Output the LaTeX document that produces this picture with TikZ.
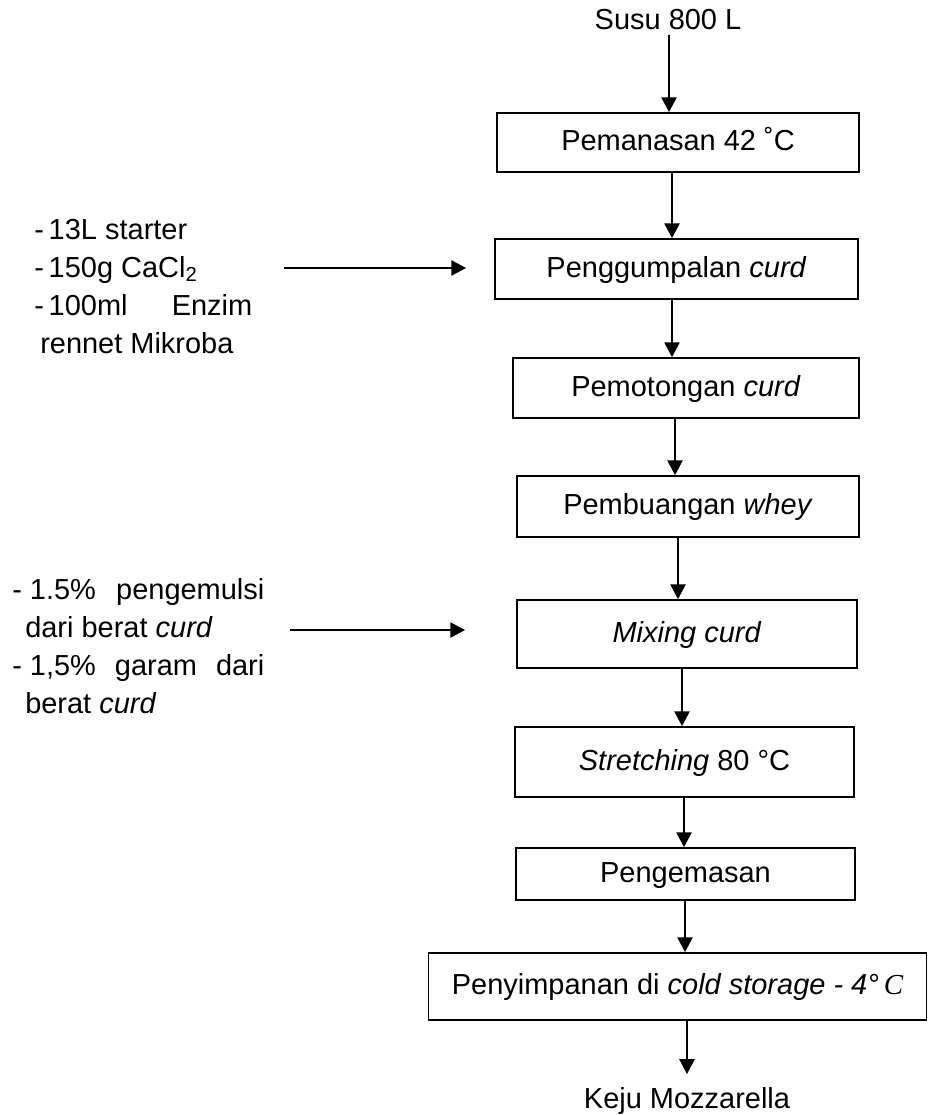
\documentclass[tikz,border=0pt]{standalone}
\usepackage{fontspec}
\setmainfont{Liberation Sans}
\newfontfamily\timesfont{Liberation Serif}
\usetikzlibrary{arrows.meta}

\tikzset{
  tahap/.style={draw=black, line width=1.2pt, rectangle, inner sep=0pt, align=center, text height=15.5pt, text depth=4.1pt},
  alir/.style={line width=1.2pt, -{Triangle[length=0.37cm,width=0.38cm]}},
  baris/.style={anchor=base west, inner sep=0pt},
}

\begin{document}
\begin{tikzpicture}[x=0.025cm, y=-0.025cm, font=\fontsize{20.6pt}{24pt}\selectfont]
\useasboundingbox (0,0) rectangle (929,1115);

% alur utama
\node[anchor=base] (susu) at (668,30) {Susu 800 L};
\node[tahap, minimum width=9.05cm, minimum height=1.475cm] (panas) at (678,142.5) {Pemanasan 42 ˚C};
\node[tahap, minimum width=9.075cm, minimum height=1.5cm] (gumpal) at (676.5,269) {Penggumpalan \textit{curd}};
\node[tahap, minimum width=8.65cm, minimum height=1.5cm] (potong) at (686,388) {Pemotongan \textit{curd}};
\node[tahap, minimum width=8.55cm, minimum height=1.525cm] (buang) at (688,506.5) {Pembuangan \textit{whey}};
\node[tahap, minimum width=8.5cm, minimum height=1.7cm] (campur) at (687,634) {\textit{Mixing curd}};
\node[tahap, minimum width=8.475cm, minimum height=1.75cm] (regang) at (684.5,762) {\textit{Stretching} 80 °C};
\node[tahap, minimum width=8.475cm, minimum height=1.3cm] (kemas) at (685.5,874) {Pengemasan};
\node[tahap, minimum width=12.45cm, minimum height=1.675cm] (simpan) at (677.5,986.5) {Penyimpanan di \textit{cold storage - 4°}\,{\timesfont\itshape C}};
\node[anchor=base] (keju) at (687,1108) {Keju Mozzarella};

% bahan tambahan
\node[baris] (starter) at (34,239.5) {-\,13L starter};
\node[baris] (cacl) at (34,277.5) {-\,150g CaCl\textsubscript{2}};
\node[baris] (enzim) at (34,315.5) {\makebox[5.45cm][s]{-\,100ml\hfill Enzim}};
\node[baris] (rennet) at (40,353.5) {rennet Mikroba};
\node[baris] (emulsi) at (12,599.5) {\makebox[6.3cm][s]{-~1.5\%\hfill pengemulsi}};
\node[baris] (emulsib) at (25,637.5) {dari berat \textit{curd}};
\node[baris] (garam) at (12,675.5) {\makebox[6.3cm][s]{-~1,5\%\hfill garam\hfill dari}};
\node[baris] (garamb) at (25,713.5) {berat \textit{curd}};

% panah
\draw[alir] (susu.south -| 669,0) -- (panas.north -| 669,0);
\draw[alir] (panas.south -| 672,0) -- (gumpal.north -| 672,0);
\draw[alir] (gumpal.south -| 672,0) -- (potong.north -| 672,0);
\draw[alir] (potong.south -| 675,0) -- (buang.north -| 675,0);
\draw[alir] (buang.south -| 678,0) -- (campur.north -| 678,0);
\draw[alir] (campur.south -| 682,0) -- (regang.north -| 682,0);
\draw[alir] (regang.south -| 684,0) -- (kemas.north -| 684,0);
\draw[alir] (kemas.south -| 685,0) -- (simpan.north -| 685,0);
\draw[alir, shorten >=0.2cm] (simpan.south -| 687,0) -- (keju.north -| 687,0);

\coordinate (in1) at (284,268);
\draw[alir, shorten >=0.7cm] (in1) -- (in1 -| gumpal.west);
\coordinate (in2) at (290,630);
\draw[alir, shorten >=1.275cm] (in2) -- (in2 -| campur.west);

\end{tikzpicture}
\end{document}
